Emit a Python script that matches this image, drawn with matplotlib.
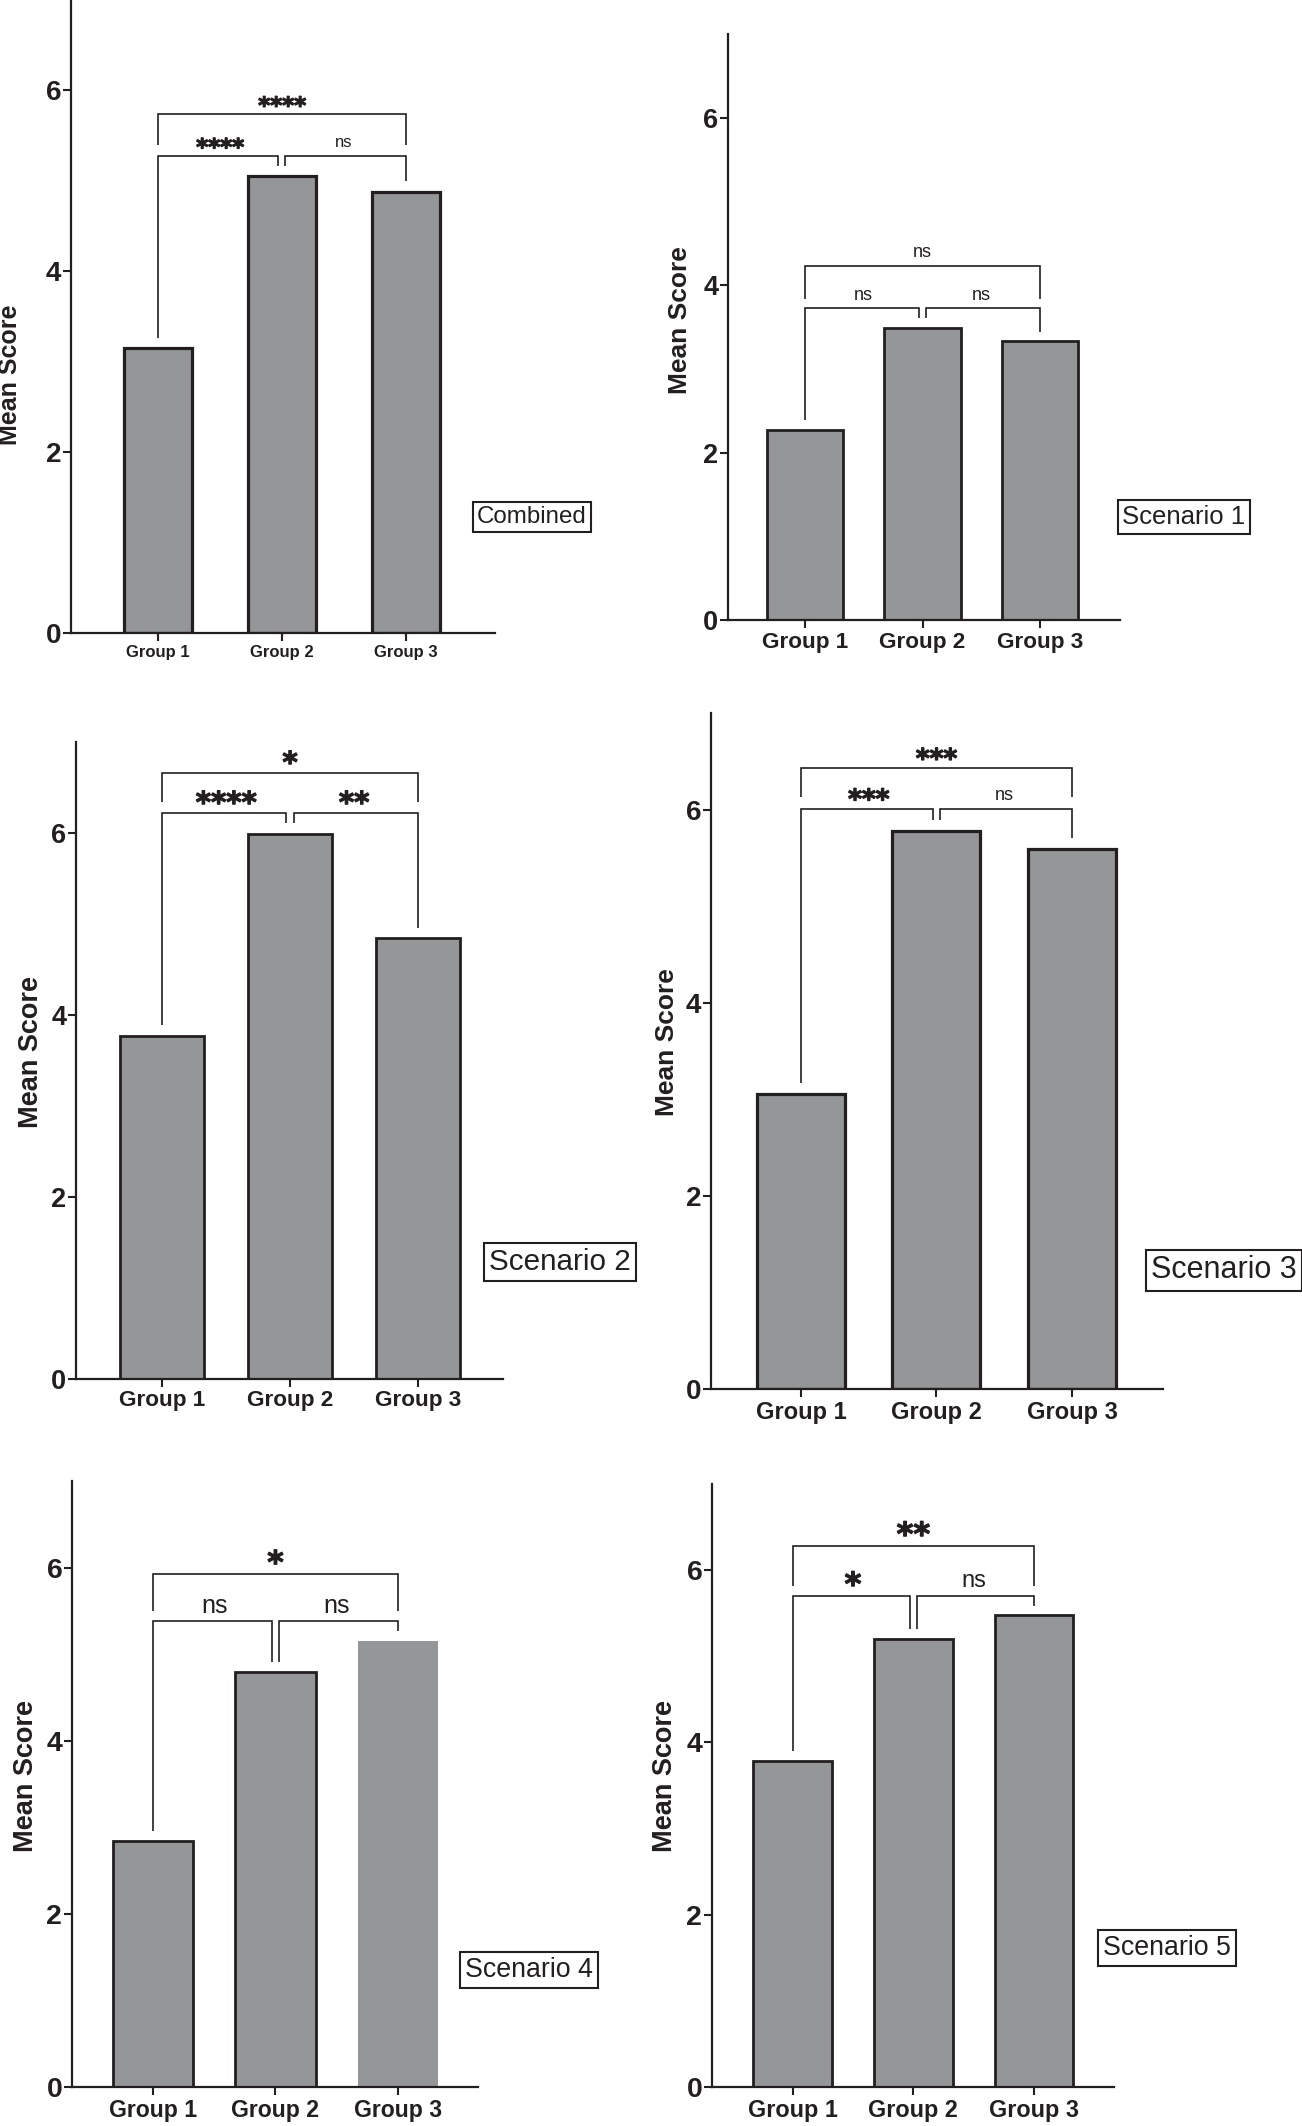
import matplotlib
matplotlib.use('Agg')
import matplotlib.pyplot as plt
import matplotlib.patheffects as pe

W, H, DPI = 1302, 2126, 100

# ---------------- data ----------------
groups = ['Group 1', 'Group 2', 'Group 3']
panel_names = ['Combined', 'Scenario 1', 'Scenario 2', 'Scenario 3', 'Scenario 4', 'Scenario 5']

combined = [3.15, 5.05, 4.88]
scenario1 = [2.27, 3.49, 3.33]
scenario2 = [3.77, 5.99, 4.84]
scenario3 = [3.05, 5.78, 5.59]
scenario4 = [2.84, 4.79, 5.15]
scenario5 = [3.78, 5.20, 5.47]

# significance: (Group1 vs Group2, Group2 vs Group3, Group1 vs Group3)
sig_combined = ['****', 'ns', '****']
sig_scenario1 = ['ns', 'ns', 'ns']
sig_scenario2 = ['****', '**', '*']
sig_scenario3 = ['***', 'ns', '***']
sig_scenario4 = ['ns', 'ns', '*']
sig_scenario5 = ['*', 'ns', '**']

y_ticks = [0, 2, 4, 6]
y_max = 7

values = [combined, scenario1, scenario2, scenario3, scenario4, scenario5]
sigs = [sig_combined, sig_scenario1, sig_scenario2, sig_scenario3, sig_scenario4, sig_scenario5]

# ---------------- layout / style ----------------
DARK = '#231f20'
GRAY = '#959698'

# box = (x_left, y_top, x_right, y_zero) in pixels
layout = [
    dict(box=(70.8, 0, 495, 633), xlim=(-0.703, 2.718), bw=0.55, xt=12, yt=20, yl=18,
         ylx=10, yly=375, lab=17.4, labc=(532, 517), ns=12, star=16.5, up=0.46, outline=[1, 1, 1], elw=2.3),
    dict(box=(728, 33.8, 1119.6, 620), xlim=(-0.655, 2.677), bw=0.65, xt=16.2, yt=19.5, yl=19,
         ylx=680, yly=320, lab=18.5, labc=(1184, 517), ns=13, star=19, up=0.51, outline=[1, 1, 1], elw=2.0),
    dict(box=(76, 742, 503, 1378.6), xlim=(-0.672, 2.664), bw=0.65, xt=16.2, yt=19.5, yl=19.5,
         ylx=31, yly=1052, lab=21.3, labc=(560, 1262), ns=13, star=21, up=0.44, outline=[1, 1, 1], elw=2.0),
    dict(box=(711, 713, 1163, 1388.7), xlim=(-0.664, 2.672), bw=0.65, xt=17, yt=20, yl=19,
         ylx=667, yly=1042, lab=22, labc=(1224, 1270), ns=13, star=19, up=0.42, outline=[1, 1, 1], elw=2.3),
    dict(box=(72, 1481, 478, 2087), xlim=(-0.661, 2.653), bw=0.66, xt=16.6, yt=20.5, yl=19.5,
         ylx=26, yly=1776, lab=19.3, labc=(529, 1970), ns=18, star=22.5, up=0.55, outline=[1, 1, 0], elw=2.0),
    dict(box=(712, 1483.6, 1114, 2087), xlim=(-0.667, 2.662), bw=0.65, xt=16.8, yt=20.5, yl=19.5,
         ylx=665, yly=1776, lab=19.3, labc=(1167, 1948), ns=17, star=23, up=0.58, outline=[1, 1, 1], elw=2.0),
]

GAP = 0.115       # gap between bracket legs and what lies below them
HALF = 0.028      # half gap between the two lower brackets at group 2

fig = plt.figure(figsize=(W / DPI, H / DPI), dpi=DPI)
fig.patch.set_facecolor('white')

for vals, sig, name, L in zip(values, sigs, panel_names, layout):
    x0, y0, x1, y1 = L['box']
    ax = fig.add_axes([x0 / W, 1 - y1 / H, (x1 - x0) / W, (y1 - y0) / H])
    xs = list(range(len(groups)))
    bars = ax.bar(xs, vals, width=L['bw'], color=GRAY, edgecolor=DARK, linewidth=L['elw'], zorder=2)
    for b, o in zip(bars, L['outline']):
        if not o:
            b.set_edgecolor('none')
            b.set_linewidth(0)
    ax.set_xlim(*L['xlim'])
    ax.set_ylim(0, y_max)
    ax.set_yticks(y_ticks)
    ax.set_xticks(xs)
    ax.set_xticklabels(groups, fontsize=L['xt'], fontweight='bold', family='Liberation Sans', color=DARK)
    ax.set_yticklabels([str(t) for t in y_ticks], fontsize=L['yt'], fontweight='bold',
                       family='Liberation Sans', color=DARK)
    for s in ['top', 'right']:
        ax.spines[s].set_visible(False)
    for s in ['left', 'bottom']:
        ax.spines[s].set_linewidth(1.6)
        ax.spines[s].set_color(DARK)
        ax.spines[s].set_zorder(3)
    ax.tick_params(axis='both', length=6, width=1.5, color=DARK, direction='out')
    ax.tick_params(axis='y', pad=1)
    ax.tick_params(axis='x', pad=2.5)
    ax.patch.set_alpha(0)

    # brackets
    top = max(vals)
    low = top + 0.23
    upp = low + L['up']
    lw = 1.2
    kw = dict(color=DARK, lw=lw, clip_on=False, solid_capstyle='butt', solid_joinstyle='miter', zorder=4)
    ax.plot([0, 0, 1 - HALF, 1 - HALF], [vals[0] + GAP, low, low, vals[1] + GAP], **kw)
    ax.plot([1 + HALF, 1 + HALF, 2, 2], [vals[1] + GAP, low, low, vals[2] + GAP], **kw)
    ax.plot([0, 0, 2, 2], [low + GAP, upp, upp, low + GAP], **kw)

    for xc, yc, txt in [(0.5, low, sig[0]), (1.5, low, sig[1]), (1.0, upp, sig[2])]:
        if txt == 'ns':
            ax.annotate(txt, xy=(xc, yc), xytext=(0, 6), textcoords='offset points',
                        ha='center', va='baseline', fontsize=L['ns'], family='Liberation Sans',
                        color=DARK, annotation_clip=False)
        else:
            ax.annotate(txt, xy=(xc, yc), xytext=(0, 0.5), textcoords='offset points',
                        ha='center', va='baseline', fontsize=L['star'], family='DejaVu Sans',
                        fontweight='bold', color=DARK, annotation_clip=False,
                        path_effects=[pe.withStroke(linewidth=0.9, foreground=DARK)])

    # y label
    fig.text(L['ylx'] / W, 1 - L['yly'] / H, 'Mean Score', rotation=90, ha='center', va='center',
             fontsize=L['yl'], fontweight='bold', family='Liberation Sans', color=DARK)
    # panel name box
    cx, cy = L['labc']
    fig.text(cx / W, 1 - cy / H, name, ha='center', va='center', fontsize=L['lab'],
             family='Liberation Sans', color=DARK,
             bbox=dict(boxstyle='square,pad=0.18', facecolor='white', edgecolor=DARK, linewidth=1.5))

fig.savefig('out.png', dpi=DPI, facecolor='white')
